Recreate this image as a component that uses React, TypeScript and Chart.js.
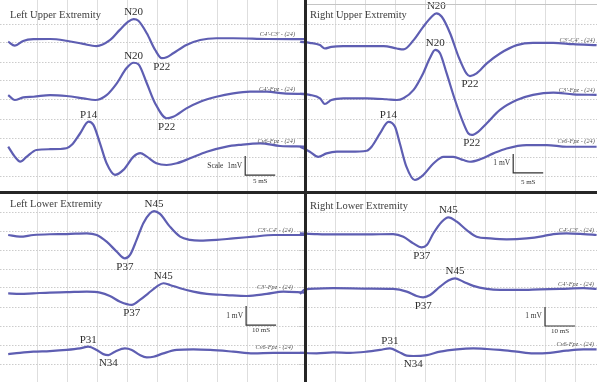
import { useEffect, useRef } from "react";
import { Chart, registerables } from "chart.js";

Chart.register(...registerables);

// Somatosensory evoked potentials. Time in ms after stimulus,
// amplitude in mV relative to each channel's own baseline.

// ---- Left upper extremity ----
const LU_C4C3_T = [0.2, 1.3, 2.7, 4.4, 7.2, 9.9, 12.7, 14.9, 17.2, 18.8, 20.2, 21.1, 21.9, 23.3, 24.7, 25.8, 26.6, 27.7, 29.9, 32.2, 34.9, 37.7, 43.3, 49.5];
const LU_C4C3_V = [-0.09, -0.3, -0.05, 0.04, 0.05, -0.04, -0.21, -0.32, 0, 0.53, 0.96, 1.1, 1.01, 0.35, -0.53, -0.96, -0.91, -0.7, -0.26, 0, 0.09, 0.09, 0.05, 0.04];
const LU_C4FPZ_T = [0.2, 1.3, 2.7, 4.4, 7.2, 9.9, 12.7, 14.7, 16.6, 18.3, 19.9, 21.1, 21.9, 23.3, 24.7, 26.6, 27.7, 29.9, 32.2, 34.9, 37.7, 40.5, 43.3, 46.1, 49.5];
const LU_C4FPZ_V = [0.05, -0.21, -0.07, -0.04, 0.05, 0, -0.12, -0.21, 0.05, 0.67, 1.46, 1.75, 1.67, 0.67, -0.39, -1.17, -1.09, -0.65, -0.3, -0.04, 0.14, 0.23, 0.23, 0.14, 0.11];
const LU_CV6_T = [0.2, 1.3, 2.2, 3.3, 4.9, 7.2, 9.9, 10.8, 12.2, 13.6, 14.4, 15.5, 16.6, 18, 19.4, 21.1, 22.2, 23.3, 24.9, 26.6, 28.3, 30.5, 33.3, 36.6, 38.8, 42.2, 45.5, 49.5];
const LU_CV6_V = [0.02, -0.51, -0.77, -0.51, -0.16, -0.12, -0.07, 0.11, 0.72, 1.33, 1.16, 0.19, -0.86, -1.47, -1.21, -0.51, -0.33, -0.51, -0.86, -0.95, -0.86, -0.6, -0.25, 0.02, 0.11, 0.19, 0.05, 0.02];

// ---- Right upper extremity ----
const RU_C3C4_T = [-0.8, 0.8, 2.5, 3.3, 4.4, 6.4, 10.3, 13.1, 15.3, 16.4, 18.1, 19.7, 21.1, 21.9, 22.8, 24.2, 25.6, 26.9, 27.5, 28.6, 30.3, 32.5, 35.3, 38, 41.4, 44.7, 48.6];
const RU_C3C4_V = [0.17, 0.12, 0, -0.18, -0.09, -0.05, -0.05, -0.05, -0.18, -0.23, 0.26, 0.96, 1.49, 1.67, 1.49, 0.61, -0.62, -1.49, -1.63, -1.49, -0.96, -0.44, 0, 0.12, 0.12, 0.05, 0];
const RU_C3FPZ_T = [-0.8, 0.8, 2.5, 3.3, 4.4, 6.4, 10.3, 13.6, 15.3, 16.4, 18.1, 19.7, 20.8, 21.7, 22.5, 23.6, 25, 26.4, 27.2, 27.8, 28.9, 30.3, 32.5, 35.3, 38, 41.4, 44.7, 48.6];
const RU_C3FPZ_V = [0.21, 0.16, -0.02, -0.32, -0.11, -0.02, -0.02, -0.07, -0.11, -0.02, 0.42, 1.3, 2.09, 2.53, 2.35, 1.3, -0.11, -1.33, -1.86, -1.95, -1.77, -1.33, -0.63, -0.11, 0.16, 0.28, 0.19, 0.16];
const RU_CV6_T = [-0.8, 0.8, 2.2, 3.6, 5.3, 7.5, 10.3, 11.1, 12.5, 13.9, 15, 15.8, 16.9, 18.3, 19.7, 21.4, 23.1, 24.7, 26.4, 27.5, 29.2, 31.4, 33.6, 36.9, 40.3, 43.6, 48.6];
const RU_CV6_V = [0.07, -0.19, -0.46, -0.28, -0.19, -0.19, -0.14, 0.07, 0.77, 1.38, 1.12, 0.25, -0.98, -1.68, -1.42, -0.81, -0.46, -0.46, -0.63, -0.72, -0.59, -0.28, -0.02, 0.16, 0.16, 0.07, 0.07];

// ---- Left lower extremity ----
const LL_C3C4_T = [0.4, 4.3, 8.8, 14.3, 19.9, 26.6, 29.9, 33.2, 36.6, 39.3, 41, 43.2, 45.4, 47.7, 49, 51, 54.3, 57.7, 61, 64.3, 69.9, 75.4, 82.1, 88.8, 99];
const LL_C3C4_V = [0, -0.09, 0, 0.04, 0.05, 0.09, 0, -0.35, -0.88, -1.23, -1.05, -0.26, 0.61, 1.14, 1.26, 1.11, 0.44, -0.09, -0.26, -0.3, -0.26, -0.18, -0.09, 0, 0];
const LL_C3FPZ_T = [0.4, 4.3, 8.8, 14.3, 19.9, 26.6, 31, 34.3, 37.7, 41.6, 44.3, 47.1, 49.9, 52.1, 54.3, 57.7, 62.1, 66.6, 73.2, 79.9, 86.6, 92.1, 99];
const LL_C3FPZ_V = [-0.02, -0.05, -0.02, 0.02, 0.04, 0.07, 0.02, -0.16, -0.46, -0.63, -0.37, -0.02, 0.33, 0.51, 0.42, 0.25, 0.07, -0.05, -0.11, -0.16, -0.05, 0.07, 0.02];
const LL_CV6_T = [0.4, 4.3, 8.8, 14.3, 19.9, 24.3, 27.1, 29.9, 32.1, 33.8, 36, 39.3, 41.6, 44.3, 46.6, 48.8, 52.1, 56.6, 62.1, 67.7, 75.4, 82.1, 88.8, 99];
const LL_CV6_V = [-0.11, -0.04, 0.02, 0.05, 0.11, 0.19, 0.28, 0.11, -0.11, -0.16, 0.02, 0.19, 0.11, -0.16, -0.28, -0.25, -0.07, 0.11, 0.14, 0.11, 0.02, -0.07, -0.04, -0.04];

// ---- Right lower extremity ----
const RL_C4C3_T = [-1.7, 3.9, 9.4, 20.6, 29.4, 32.8, 36.1, 38.9, 40.6, 42.8, 45.6, 47.8, 50.6, 53.9, 57.2, 61.7, 67.2, 73.9, 79.4, 82.8, 87.2, 92.8, 97.2];
const RL_C4C3_V = [0.04, 0, -0.02, -0.02, 0, -0.14, -0.49, -0.7, -0.58, 0.04, 0.65, 0.88, 0.65, 0.21, -0.14, -0.23, -0.28, -0.23, -0.11, 0, 0.04, 0, -0.05];
const RL_C4FPZ_T = [-1.7, 0, 3.9, 9.4, 20.6, 29.4, 33.9, 37.2, 39.4, 41.7, 45, 47.8, 50, 52.8, 56.1, 60.6, 65, 71.7, 78.3, 85, 92.8, 97.2];
const RL_C4FPZ_V = [-0.26, -0.02, 0.02, 0.04, 0.02, 0, -0.14, -0.37, -0.44, -0.32, 0.12, 0.44, 0.56, 0.38, 0.16, 0, -0.05, -0.05, -0.02, 0, 0.04, 0];
const RL_CV6_T = [-1.7, 3.9, 9.4, 15, 20.6, 25, 28.3, 31.1, 33.9, 36.1, 40.6, 45, 50.6, 56.1, 60.6, 65, 70.6, 76.1, 81.7, 87.2, 92.8, 97.2];
const RL_CV6_V = [-0.04, -0.07, -0.02, -0.04, 0.02, 0.11, 0.19, 0.02, -0.19, -0.21, -0.16, 0.02, 0.14, 0.19, 0.16, 0.11, 0.02, -0.07, -0.04, 0.07, 0.14, 0.14];

// Channel baselines, in grid divisions (1 division = 1 mV) from the panel bottom
const LU_BASE = [8.16, 5.21, 2.53];
const RU_BASE = [7.89, 5.11, 2.47];
const LL_BASE = [7.79, 4.74, 1.63];
const RL_BASE = [7.84, 4.95, 1.63];

// Grid divisions: 5 ms (upper), 10 ms (lower), 1 mV
const UPPER_GRID_MS = [5, 10, 15, 20, 25, 30, 35, 40, 45];
const LOWER_GRID_MS = [10, 20, 30, 40, 50, 60, 70, 80, 90];
const GRID_MV = [1, 2, 3, 4, 5, 6, 7, 8, 9];

const TRACE_COLOR = "#5e5eb2";
const SERIF = '"Liberation Serif", "Times New Roman", serif';

type Trace = { name: string; t: number[]; v: number[]; base: number };
type Peak = { trace: number; index: number; text: string; below?: boolean };
type Bar = { t: number; v: number; dt: number; dv: number; vText: string; tText: string; tDy: number };
type PanelCfg = {
  title: string;
  titleX: number;
  titleY: number;
  left: number;
  top: number;
  width: number;
  height: number;
  xMin: number;
  xMax: number;
  yMin: number;
  yMax: number;
  xGrid: number[];
  labelT: number;
  traces: Trace[];
  peaks: Peak[];
  bar: Bar;
};

const PANELS: PanelCfg[] = [
  {
    title: "Left Upper Extremity",
    titleX: 10, titleY: 15,
    left: 0, top: 0, width: 304, height: 191,
    xMin: -7 / 6, xMax: -7 / 6 + 304 / 6, yMin: 4 / 19, yMax: 195 / 19,
    xGrid: UPPER_GRID_MS, labelT: 48,
    traces: [
      { name: "C4'-C3' - (24)", t: LU_C4C3_T, v: LU_C4C3_V, base: LU_BASE[0] },
      { name: "C4'-Fpz - (24)", t: LU_C4FPZ_T, v: LU_C4FPZ_V, base: LU_BASE[1] },
      { name: "Cv6-Fpz - (24)", t: LU_CV6_T, v: LU_CV6_V, base: LU_BASE[2] },
    ],
    peaks: [
      { trace: 0, index: 11, text: "N20" },
      { trace: 0, index: 15, text: "P22", below: true },
      { trace: 1, index: 11, text: "N20" },
      { trace: 1, index: 15, text: "P22", below: true },
      { trace: 2, index: 9, text: "P14" },
    ],
    bar: { t: 39.7, v: 1.05, dt: 5, dv: 1, vText: "Scale  1mV", tText: "5 mS", tDy: 6 },
  },
  {
    title: "Right Upper Extremity",
    titleX: 11, titleY: 15,
    left: 299, top: 0, width: 298, height: 191,
    xMin: -1, xMax: -1 + 298 / 6, yMin: 4 / 19, yMax: 195 / 19,
    xGrid: UPPER_GRID_MS, labelT: 48.3,
    traces: [
      { name: "C3'-C4' - (24)", t: RU_C3C4_T, v: RU_C3C4_V, base: RU_BASE[0] },
      { name: "C3'-Fpz - (24)", t: RU_C3FPZ_T, v: RU_C3FPZ_V, base: RU_BASE[1] },
      { name: "Cv6-Fpz - (24)", t: RU_CV6_T, v: RU_CV6_V, base: RU_BASE[2] },
    ],
    peaks: [
      { trace: 0, index: 13, text: "N20" },
      { trace: 0, index: 18, text: "P22", below: true },
      { trace: 1, index: 13, text: "N20" },
      { trace: 1, index: 19, text: "P22", below: true },
      { trace: 2, index: 9, text: "P14" },
    ],
    bar: { t: 34.7, v: 1.16, dt: 5, dv: 1, vText: "1 mV", tText: "5 mS", tDy: 9 },
  },
  {
    title: "Left Lower Extremity",
    titleX: 10, titleY: 11,
    left: 0, top: 193, width: 304, height: 189,
    xMin: -7 / 3, xMax: -7 / 3 + 304 / 3, yMin: 1 / 19, yMax: 10,
    xGrid: LOWER_GRID_MS, labelT: 95.3,
    traces: [
      { name: "C3'-C4' - (24)", t: LL_C3C4_T, v: LL_C3C4_V, base: LL_BASE[0] },
      { name: "C3'-Fpz - (24)", t: LL_C3FPZ_T, v: LL_C3FPZ_V, base: LL_BASE[1] },
      { name: "Cv6-Fpz - (24)", t: LL_CV6_T, v: LL_CV6_V, base: LL_BASE[2] },
    ],
    peaks: [
      { trace: 0, index: 14, text: "N45" },
      { trace: 0, index: 9, text: "P37", below: true },
      { trace: 1, index: 13, text: "N45" },
      { trace: 1, index: 9, text: "P37", below: true },
      { trace: 2, index: 6, text: "P31" },
      { trace: 2, index: 9, text: "N34", below: true },
    ],
    bar: { t: 79.7, v: 3.05, dt: 10, dv: 1, vText: "1 mV", tText: "10 mS", tDy: 5 },
  },
  {
    title: "Right Lower Extremity",
    titleX: 11, titleY: 13,
    left: 299, top: 193, width: 298, height: 189,
    xMin: -2, xMax: -2 + 298 / 3, yMin: 1 / 19, yMax: 10,
    xGrid: LOWER_GRID_MS, labelT: 96.3,
    traces: [
      { name: "C4'-C3' - (24)", t: RL_C4C3_T, v: RL_C4C3_V, base: RL_BASE[0] },
      { name: "C4'-Fpz - (24)", t: RL_C4FPZ_T, v: RL_C4FPZ_V, base: RL_BASE[1] },
      { name: "Cv6-Fpz - (24)", t: RL_CV6_T, v: RL_CV6_V, base: RL_BASE[2] },
    ],
    peaks: [
      { trace: 0, index: 11, text: "N45" },
      { trace: 0, index: 7, text: "P37", below: true },
      { trace: 1, index: 12, text: "N45" },
      { trace: 1, index: 8, text: "P37", below: true },
      { trace: 2, index: 6, text: "P31" },
      { trace: 2, index: 9, text: "N34", below: true },
    ],
    bar: { t: 80, v: 3.0, dt: 10, dv: 1, vText: "1 mV", tText: "10 mS", tDy: 5 },
  },
];

function Panel({ cfg }: { cfg: PanelCfg }) {
  const ref = useRef<HTMLCanvasElement>(null);

  useEffect(() => {
    const canvas = ref.current;
    if (!canvas) return;

    const annotations = {
      id: "sepAnnotations",
      afterDatasetsDraw(chart: any) {
        const ctx = chart.ctx as CanvasRenderingContext2D;
        const xs = chart.scales.x;
        const ys = chart.scales.y;
        ctx.save();

        // panel title
        ctx.fillStyle = "#3d3d3d";
        ctx.font = `10.5px ${SERIF}`;
        ctx.textAlign = "left";
        ctx.textBaseline = "middle";
        ctx.fillText(cfg.title, cfg.titleX, cfg.titleY);

        // peak names
        ctx.fillStyle = "#2e2e2e";
        ctx.font = `11px ${SERIF}`;
        ctx.textAlign = "center";
        for (const p of cfg.peaks) {
          const pt = chart.getDatasetMeta(p.trace).data[p.index];
          ctx.fillText(p.text, pt.x, p.below ? pt.y + 8.5 : pt.y - 7);
        }

        // channel montage names, above the end of each trace
        ctx.fillStyle = "#555";
        ctx.font = `italic 6.3px ${SERIF}`;
        ctx.textAlign = "right";
        cfg.traces.forEach((tr, i) => {
          const pts = chart.getDatasetMeta(i).data;
          const last = pts[pts.length - 1];
          ctx.fillText(tr.name, xs.getPixelForValue(cfg.labelT), last.y - 5);
        });

        // calibration bar
        const b = cfg.bar;
        const x0 = xs.getPixelForValue(b.t);
        const x1 = xs.getPixelForValue(b.t + b.dt);
        const y0 = ys.getPixelForValue(b.v);
        const y1 = ys.getPixelForValue(b.v + b.dv);
        ctx.strokeStyle = "#333";
        ctx.lineWidth = 1.2;
        ctx.beginPath();
        ctx.moveTo(x0, y1);
        ctx.lineTo(x0, y0);
        ctx.lineTo(x1, y0);
        ctx.stroke();
        ctx.fillStyle = "#333";
        ctx.font = `7.5px ${SERIF}`;
        ctx.textAlign = "right";
        ctx.fillText(b.vText, x0 - 3, (y0 + y1) / 2);
        ctx.font = `7px ${SERIF}`;
        ctx.textAlign = "center";
        ctx.fillText(b.tText, (x0 + x1) / 2, y0 + b.tDy);

        ctx.restore();
      },
    };

    const chart = new Chart(canvas, {
      type: "line",
      data: {
        datasets: cfg.traces.map((tr) => ({
          label: tr.name,
          data: tr.t.map((t, i) => ({ x: t, y: tr.base + tr.v[i] })),
          borderColor: TRACE_COLOR,
          borderWidth: 2.2,
          pointRadius: 0,
          fill: false,
          cubicInterpolationMode: "monotone" as const,
        })),
      },
      options: {
        animation: false,
        responsive: false,
        devicePixelRatio: 1,
        layout: { padding: 0 },
        plugins: { legend: { display: false }, tooltip: { enabled: false } },
        events: [],
        scales: {
          x: {
            type: "linear",
            min: cfg.xMin,
            max: cfg.xMax,
            ticks: { display: false },
            grid: { color: "#dedede", lineWidth: 1, drawTicks: false },
            border: { display: false },
            afterBuildTicks: (s: any) => {
              s.ticks = cfg.xGrid.map((value) => ({ value }));
            },
          },
          y: {
            type: "linear",
            min: cfg.yMin,
            max: cfg.yMax,
            ticks: { display: false },
            grid: { color: "#cccccc", lineWidth: 1, drawTicks: false },
            border: { display: false, dash: [1.5, 1.5] },
            afterBuildTicks: (s: any) => {
              s.ticks = GRID_MV.map((value) => ({ value }));
            },
          },
        },
      },
      plugins: [annotations],
    });

    return () => chart.destroy();
  }, [cfg]);

  return (
    <canvas
      ref={ref}
      width={cfg.width}
      height={cfg.height}
      style={{ position: "absolute", left: cfg.left, top: cfg.top, width: cfg.width, height: cfg.height }}
    />
  );
}

export default function App() {
  return (
    <div style={{ position: "fixed", left: 0, top: 0, width: 597, height: 382, background: "#fff", overflow: "hidden" }}>
      {PANELS.map((p) => (
        <Panel key={p.title} cfg={p} />
      ))}
      <div style={{ position: "absolute", left: 306, top: 4, width: 291, height: 1, background: "#c4c4c4" }} />
      <div style={{ position: "absolute", left: 304, top: 0, width: 2.5, height: 382, background: "#262626" }} />
      <div style={{ position: "absolute", left: 0, top: 191, width: 597, height: 2.5, background: "#262626" }} />
    </div>
  );
}
